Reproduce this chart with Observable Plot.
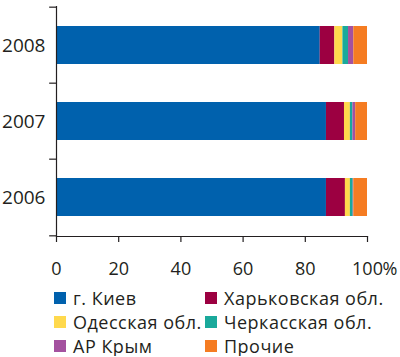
<!DOCTYPE html>
<html><head><meta charset="utf-8">
<script src="https://cdn.jsdelivr.net/npm/d3@7"></script>
<script src="https://cdn.jsdelivr.net/npm/@observablehq/plot@0.6"></script>
<style>
body{margin:0;background:#fff;font-family:"Open Sans",sans-serif;color:#231f20;}
#chart svg{display:block;}
#legend{display:grid;grid-template-columns:151px 190px;margin-left:54px;margin-top:3.5px;row-gap:5px;font-size:18px;letter-spacing:0.5px;}
.item{display:flex;align-items:center;height:19px;white-space:nowrap;}
.sw{width:12px;height:12px;margin-right:7px;flex:none;}
</style>
</head><body><div id="chart"></div><div id="legend"></div>
<script>
const years = ["2008","2007","2006"];
const regions = ["г. Киев","Харьковская обл.","Одесская обл.","Черкасская обл.","АР Крым","Прочие"];
const colors = ["#0061ad","#9c0041","#ffd94d","#1aa99b","#a4519f","#f57c22"];
const share2008 = [84.8,4.7,2.6,1.8,1.7,4.4];
const share2007 = [86.8,5.8,1.9,0.8,0.9,3.8];
const share2006 = [86.8,6.1,1.6,0.9,0.2,4.4];
const xTicks = [0,20,40,60,80,100];

const shares = {"2008":share2008,"2007":share2007,"2006":share2006};
const rows = years.flatMap(y => regions.map((r,i) => ({year:y, region:r, value:shares[y][i]})));

const plot = Plot.plot({
  width:400, height:285,
  marginTop:6, marginLeft:56, marginRight:33, marginBottom:49,
  style:{fontFamily:"Open Sans", fontSize:"18px", color:"#231f20", background:"white", overflow:"visible"},
  x:{domain:[0,100]},
  y:{domain:years, paddingInner:0.5, paddingOuter:0.25},
  color:{domain:regions, range:colors},
  marks:[
    Plot.barX(rows,{x:"value", y:"year", fill:"region"}),
    Plot.ruleX([0],{stroke:"#231f20", strokeWidth:1.2}),
    Plot.frame({anchor:"bottom", stroke:"#231f20", strokeWidth:1.2}),
    Plot.ruleY(years,{y:d=>d, x1:-2.2, x2:0, dy:-38.33, stroke:"#231f20", strokeWidth:1.2}),
    Plot.ruleY(["2006"],{y:d=>d, x1:-2.2, x2:0, dy:38.33, stroke:"#231f20", strokeWidth:1.2}),
    Plot.axisY({tickSize:0, tickPadding:11, fontSize:19, label:null}),
    Plot.axisX({ticks:xTicks, tickSize:6, tickPadding:20, fontSize:18, label:null, tickFormat:d=>String(d), strokeWidth:1.2}),
    Plot.text(["%"],{x:()=>100, frameAnchor:"bottom", lineAnchor:"top", dy:26, dx:15, textAnchor:"start", fontSize:18})
  ]
});
document.getElementById("chart").appendChild(plot);

const leg = document.getElementById("legend");
regions.forEach((r,i) => {
  const d = document.createElement("div");
  d.className = "item";
  d.innerHTML = `<span class="sw" style="background:${colors[i]}"></span><span>${r}</span>`;
  leg.appendChild(d);
});
</script>
</body></html>
